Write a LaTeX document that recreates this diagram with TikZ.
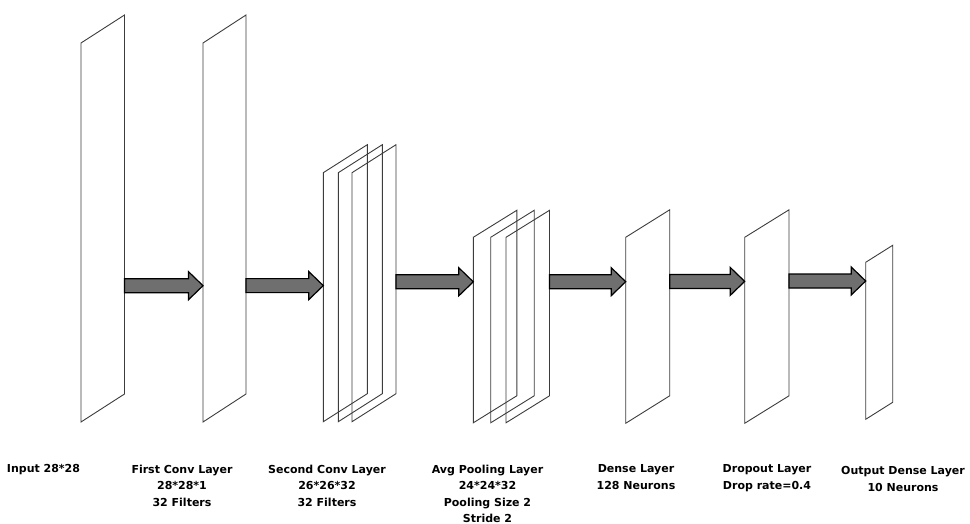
\documentclass[tikz,border=0pt]{standalone}
\usepackage{fontspec}
\setmainfont{DejaVu Sans}
\usetikzlibrary{calc}
\definecolor{planeline}{HTML}{3C3C3C}
\definecolor{arrowfill}{HTML}{6F6F6F}
\tikzset{
  plane/.style={draw=planeline, line width=0.9pt, line join=miter},
  barrow/.style={draw=black, fill=arrowfill, line width=1.2pt, line join=miter},
  lbl/.style={font=\fontsize{11}{16.5}\selectfont\bfseries, align=center, anchor=north, inner sep=0pt}
}
% x, y of top-left corner, width, height, slant
\newcommand\layerplane[5]{\draw[plane] (#1,#2) -- ++(#3,-#5) -- ++(0,#4) -- ++(-#3,#5) -- cycle;}
\newcommand\blockarr[2]{\draw[barrow] let \p1=(#1), \p2=(#2) in
  (\x1,\y1+7pt) -- (\x2-14.5pt,\y1+7pt) -- (\x2-14.5pt,\y1+14pt) -- (\x2,\y1)
  -- (\x2-14.5pt,\y1-14pt) -- (\x2-14.5pt,\y1-7pt) -- (\x1,\y1-7pt) -- cycle;}
\begin{document}
\begin{tikzpicture}[x=1pt,y=-1pt]
\useasboundingbox (0,0) rectangle (970,524);
% layers
\layerplane{81}{43}{43.5}{379}{28}
\layerplane{203}{43}{43}{379}{28}
\layerplane{323.3}{172.7}{44}{249}{28}
\layerplane{338.3}{172.7}{44}{249}{28}
\layerplane{352}{172.7}{44}{249}{28}
\layerplane{473.3}{237.3}{43.5}{185.5}{27}
\layerplane{490.7}{237.3}{43.5}{185.5}{27}
\layerplane{506}{237.3}{43.5}{185.5}{27}
\layerplane{625.7}{237.3}{44}{186}{27.5}
\layerplane{744.7}{237.3}{44.3}{186}{27.5}
\layerplane{865.7}{262.3}{27}{157}{17}
% connector anchor points
\coordinate (in-r) at (124.5,285.7);
\coordinate (c1-l) at (203,285.7);
\coordinate (c1-r) at (246,285.6);
\coordinate (c2-l) at (323.3,285.6);
\coordinate (c2-r) at (396,281.8);
\coordinate (p-l) at (473.3,281.8);
\coordinate (p-r) at (549.5,281.7);
\coordinate (d-l) at (625.7,281.7);
\coordinate (d-r) at (669.7,281.4);
\coordinate (dr-l) at (744.7,281.4);
\coordinate (dr-r) at (789,281);
\coordinate (o-l) at (865.7,281);
\blockarr{in-r}{c1-l}
\blockarr{c1-r}{c2-l}
\blockarr{c2-r}{p-l}
\blockarr{p-r}{d-l}
\blockarr{d-r}{dr-l}
\blockarr{dr-r}{o-l}
% labels
\node[lbl] (lab1) at (43.5,464.5) {Input 28*28};
\node[lbl] (lab2) at (182,464.5) {First Conv Layer\\28*28*1\\32 Filters};
\node[lbl] (lab3) at (327,464.5) {Second Conv Layer\\26*26*32\\32 Filters};
\node[lbl] (lab4) at (487.5,464.5) {Avg Pooling Layer\\24*24*32\\Pooling Size 2\\Stride 2};
\node[lbl] (lab5) at (636,464.5) {Dense Layer\\128 Neurons};
\node[lbl] (lab6) at (767,464.5) {Dropout Layer\\Drop rate=0.4};
\node[lbl] (lab7) at (903,466.5) {Output Dense Layer\\10 Neurons};
\end{tikzpicture}
\end{document}
